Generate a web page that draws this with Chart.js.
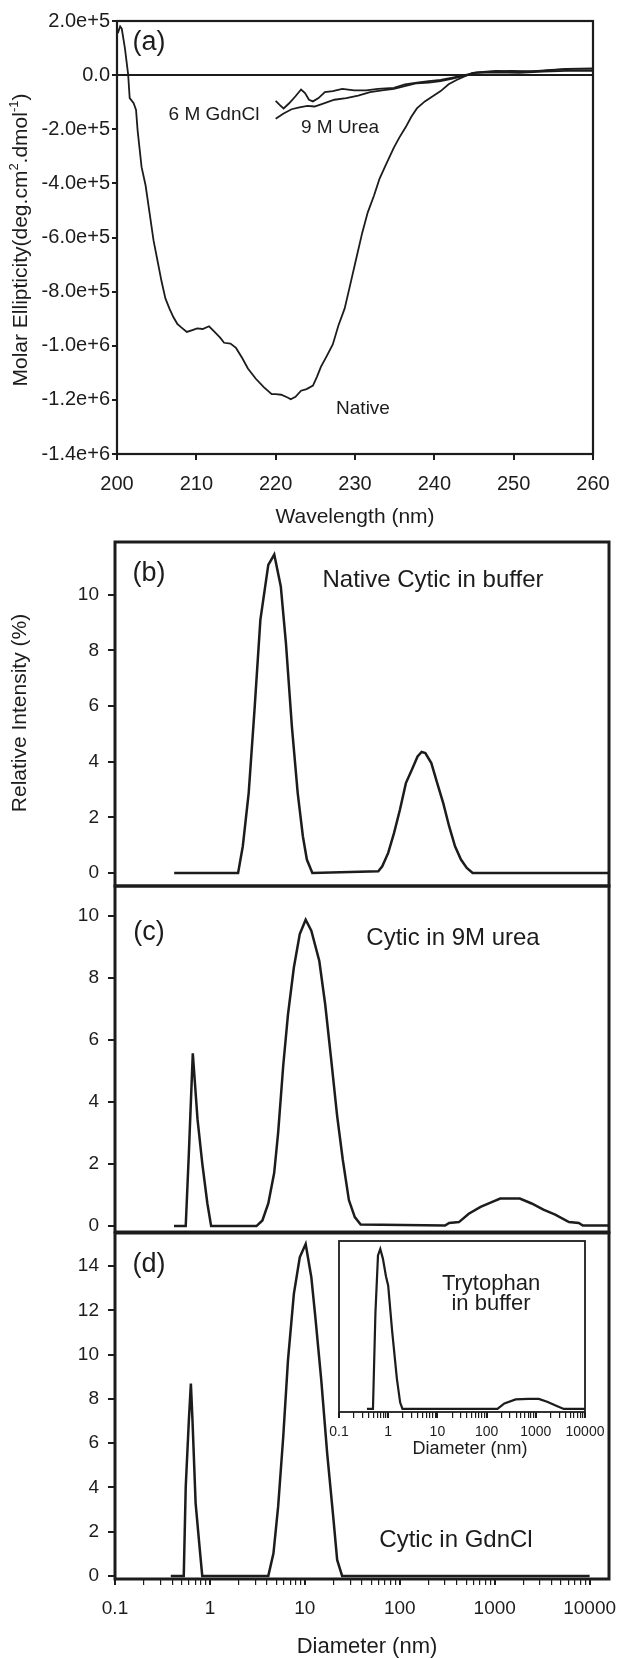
<!DOCTYPE html>
<html>
<head>
<meta charset="utf-8">
<script src="https://cdn.jsdelivr.net/npm/chart.js@4/dist/chart.umd.min.js"></script>
<style>
  html, body { margin: 0; padding: 0; background: #fff; }
  #wrap { position: relative; width: 618px; height: 1658px; }
  canvas { position: absolute; left: 0; top: 0; }
</style>
</head>
<body>
<div id="wrap">
  <canvas id="cA" width="618" height="1658"></canvas>
  <canvas id="cB" width="618" height="1658"></canvas>
  <canvas id="cC" width="618" height="1658"></canvas>
  <canvas id="cD" width="618" height="1658"></canvas>
  <canvas id="cI" width="618" height="1658"></canvas>
</div>
<script>
// (a) CD spectra: wavelength (nm) vs molar ellipticity
const nativeWl = [200.1, 200.4, 200.6, 201.0, 201.4, 201.6, 202.1, 202.4, 202.6, 203.1, 203.6, 204.1, 204.6, 205.1, 205.6,
  206.1, 206.6, 207.1, 207.6, 208.1, 208.8, 209.6, 210.1, 210.8, 211.6, 212.3, 213.0, 213.5, 214.3, 215.0,
  215.8, 216.5, 217.5, 218.5, 219.5, 220.0, 220.7, 221.5, 221.9, 222.5, 223.2, 223.9, 224.7, 225.2, 225.7,
  226.4, 227.2, 227.9, 228.7, 229.4, 230.1, 230.9, 231.6, 232.4, 233.1, 233.9, 234.9, 235.6, 236.4, 237.1,
  237.8, 238.8, 239.8, 240.8, 241.8, 242.8, 243.8, 244.8, 245.8, 247.3, 249.7, 252.2, 254.7, 257.2, 260.0];
const nativeCd = [1.55e5, 1.80e5, 1.72e5, 0.99e5, 0.04e5, -0.85e5, -1.04e5, -1.29e5, -2.05e5, -3.40e5, -4.07e5, -5.08e5, -6.10e5, -6.85e5, -7.60e5,
  -8.25e5, -8.62e5, -8.94e5, -9.19e5, -9.32e5, -9.49e5, -9.41e5, -9.36e5, -9.38e5, -9.28e5, -9.49e5, -9.70e5, -9.89e5, -9.92e5, -10.08e5,
  -10.46e5, -10.84e5, -11.22e5, -11.53e5, -11.79e5, -11.79e5, -11.81e5, -11.91e5, -11.98e5, -11.89e5, -11.66e5, -11.60e5, -11.47e5, -11.15e5, -10.78e5,
  -10.40e5, -9.95e5, -9.26e5, -8.62e5, -7.74e5, -6.85e5, -5.84e5, -5.08e5, -4.45e5, -3.82e5, -3.31e5, -2.68e5, -2.30e5, -1.92e5, -1.54e5,
  -1.23e5, -0.97e5, -0.78e5, -0.59e5, -0.34e5, -0.18e5, -0.05e5, 0.08e5, 0.10e5, 0.13e5, 0.16e5, 0.14e5, 0.19e5, 0.23e5, 0.23e5];
const gdnWl = [220.0, 220.5, 221.0, 221.7, 222.5, 223.2, 223.7, 224.2, 224.7, 225.4, 226.2, 227.2, 228.4, 229.9, 231.4,
  232.9, 234.9, 236.3, 237.8, 239.3, 240.8, 242.3, 243.8, 245.3, 247.8, 250.7, 253.7, 256.7, 260.0];
const gdnCd = [-0.95e5, -1.10e5, -1.23e5, -1.04e5, -0.78e5, -0.53e5, -0.66e5, -0.91e5, -0.97e5, -0.85e5, -0.63e5, -0.59e5, -0.51e5, -0.56e5, -0.56e5,
  -0.51e5, -0.47e5, -0.34e5, -0.28e5, -0.22e5, -0.18e5, -0.09e5, 0, 0.10e5, 0.16e5, 0.13e5, 0.16e5, 0.23e5, 0.25e5];
const ureaWl = [220.0, 221.0, 222.0, 223.0, 224.0, 224.9, 225.9, 227.4, 228.9, 230.4, 231.9, 233.4, 234.9, 236.4, 237.8,
  239.3, 240.8, 242.3, 243.8, 245.3, 247.8, 250.7, 253.7, 256.7, 260.0];
const ureaCd = [-1.61e5, -1.42e5, -1.26e5, -1.19e5, -1.14e5, -1.16e5, -1.06e5, -0.91e5, -0.85e5, -0.76e5, -0.63e5, -0.56e5, -0.51e5, -0.40e5, -0.30e5,
  -0.28e5, -0.22e5, -0.13e5, -0.03e5, 0.08e5, 0.10e5, 0.08e5, 0.13e5, 0.16e5, 0.16e5];
const aXTicks = [200, 210, 220, 230, 240, 250, 260];
const aYTicks = [2e5, 0, -2e5, -4e5, -6e5, -8e5, -1e6, -1.2e6, -1.4e6];
const aYLabels = ['2.0e+5', '0.0', '-2.0e+5', '-4.0e+5', '-6.0e+5', '-8.0e+5', '-1.0e+6', '-1.2e+6', '-1.4e+6'];

// (b)-(d) DLS size distributions: diameter (nm) vs relative intensity (%)
const bDiam = [0.42, 1.98, 2.22, 2.56, 2.95, 3.4, 4.12, 4.76, 5.58, 6.32, 7.3, 8.41, 9.53, 10.5, 12.0,
  59.4, 65.4, 75.5, 87.1, 100.5, 116, 134, 154, 170, 186, 215, 248, 287, 331, 382, 441, 508, 586, 16000];
const bInt = [0, 0, 0.96, 2.87, 5.87, 9.1, 11.08, 11.45, 10.3, 8.26, 5.27, 2.87, 1.32, 0.48, 0,
  0.06, 0.24, 0.72, 1.44, 2.28, 3.23, 3.71, 4.19, 4.35, 4.31, 3.95, 3.23, 2.51, 1.68, 0.96, 0.48, 0.18, 0, 0];
const cDiam = [0.418, 0.556, 0.6, 0.66, 0.74, 0.83, 0.94, 1.03, 3.09, 3.57, 4.12, 4.75, 5.23, 5.92, 6.64,
  7.66, 8.84, 10.2, 11.7, 14.2, 16.4, 18.9, 21.9, 25.1, 29.1, 33.6, 38.7, 300, 331, 420,
  533, 710, 944, 1143, 1840, 2450, 3260, 4340, 6060, 7690, 8470, 16000];
const cInt = [0, 0, 2.36, 5.57, 3.45, 2.03, 0.73, 0, 0, 0.18, 0.73, 1.71, 3.01, 5.18, 6.82,
  8.34, 9.42, 9.88, 9.53, 8.55, 7.14, 5.4, 3.55, 2.14, 0.84, 0.29, 0.05, 0.02, 0.1, 0.13,
  0.4, 0.62, 0.78, 0.89, 0.89, 0.73, 0.53, 0.37, 0.13, 0.1, 0.02, 0.02];
const dDiam = [0.387, 0.53, 0.556, 0.6, 0.63, 0.655, 0.707, 0.777, 0.83, 4.12, 4.67, 5.23, 5.92, 6.64, 7.66,
  8.84, 10.2, 11.7, 12.9, 14.9, 17.2, 19.9, 21.9, 24.7, 10000];
const dInt = [0, 0, 4.03, 7.04, 8.69, 7.04, 3.28, 1.32, 0, 0, 1.02, 3.13, 6.29, 9.74, 12.75,
  14.4, 15.0, 13.5, 11.7, 8.84, 5.53, 2.68, 0.72, 0, 0];
// inset: tryptophan in buffer (arbitrary intensity units, no y scale shown)
const insetDiam = [0.37, 0.49, 0.55, 0.62, 0.69, 0.78, 0.9, 1.0, 1.2, 1.5, 1.75, 1.95, 166, 230, 390, 700, 1150, 1700, 2600, 3700, 10000];
const insetInt = [0, 0, 6.0, 9.6, 10, 9.4, 8.3, 7.7, 4.9, 1.9, 0.4, 0, 0, 0.35, 0.6, 0.63, 0.63, 0.45, 0.2, 0, 0];

const bcYTicks = [0, 2, 4, 6, 8, 10];
const dYTicks = [0, 2, 4, 6, 8, 10, 12, 14];
const logMajor = [0.1, 1, 10, 100, 1000, 10000];
const logMinor = [2, 3, 4, 5, 6, 7, 8, 9];

const FONT = "'Liberation Sans', Arial, Helvetica, sans-serif";
const INK = '#1c1c1c';
const W = 618, H = 1658;

Chart.defaults.font.family = FONT;
Chart.defaults.color = INK;

const logTicks = [];
logMajor.forEach((m, i) => {
  logTicks.push(m);
  if (i < logMajor.length - 1) logMinor.forEach(k => logTicks.push(m * k));
});

const pts = (xs, ys) => xs.map((x, i) => ({ x, y: ys[i] }));
const trace = (xs, ys, w) => ({
  data: pts(xs, ys), borderColor: INK, borderWidth: w, pointRadius: 0,
  showLine: true, tension: 0, fill: false
});

// box round the plot area + free text (with optional superscripts)
function annot(box, texts) {
  return {
    id: 'annot',
    afterDraw(chart) {
      const { ctx, chartArea: a } = chart;
      ctx.save();
      if (box) {
        ctx.strokeStyle = INK;
        ctx.lineWidth = box;
        ctx.strokeRect(a.left, a.top, a.right - a.left, a.bottom - a.top);
      }
      ctx.fillStyle = INK;
      ctx.textBaseline = 'middle';
      ctx.textAlign = 'left';
      texts.forEach(t => {
        ctx.save();
        ctx.translate(t.x, t.y);
        if (t.rot) ctx.rotate(t.rot);
        const parts = (Array.isArray(t.text) ? t.text : [[t.text]]).map(([s, sup]) => {
          const size = sup ? Math.round(t.size * 0.62) : t.size;
          ctx.font = size + 'px ' + FONT;
          return { s, sup, size, w: ctx.measureText(s).width };
        });
        let x = -parts.reduce((acc, p) => acc + p.w, 0) / 2;
        parts.forEach(p => {
          ctx.font = p.size + 'px ' + FONT;
          ctx.fillText(p.s, x, p.sup ? -t.size * 0.33 : 0);
          x += p.w;
        });
        ctx.restore();
      });
      ctx.restore();
    }
  };
}

function yAxis(min, max, ticks, label, width, size, tickLen, pad) {
  return {
    type: 'linear', min, max, display: width > 0,
    afterBuildTicks: s => { s.ticks = ticks.map(v => ({ value: v })); },
    afterFit: s => { s.width = width; s.paddingTop = 0; s.paddingBottom = 0; },
    ticks: { callback: label, font: { size }, color: INK, padding: pad, autoSkip: false },
    grid: { drawOnChartArea: false, tickLength: tickLen, color: INK, lineWidth: 2 },
    border: { display: false }
  };
}

function logAxis(max, height, size, pad) {
  return {
    type: 'logarithmic', min: 0.1, max, display: height > 0,
    afterBuildTicks: s => { s.ticks = logTicks.map(v => ({ value: v })); },
    afterFit: s => { s.height = height; s.paddingLeft = 0; s.paddingRight = 0; },
    ticks: {
      callback: v => logMajor.includes(v) ? String(v) : '',
      font: { size }, color: INK, padding: pad, autoSkip: false, maxRotation: 0
    },
    grid: {
      drawOnChartArea: false, tickLength: 6, color: INK,
      lineWidth: c => (c.tick && logMajor.includes(c.tick.value)) ? 2 : 1.2
    },
    border: { display: false }
  };
}

function panel(id, area, xh, scales, datasets, box, texts) {
  return new Chart(document.getElementById(id), {
    type: 'scatter',
    data: { datasets },
    options: {
      responsive: false, animation: false, events: [],
      layout: { padding: { left: scales.y.display ? 0 : area.left, top: area.top, right: W - area.right, bottom: H - area.bottom - xh } },
      scales,
      plugins: { legend: { display: false }, tooltip: { enabled: false } }
    },
    plugins: [annot(box, texts)]
  });
}

// (a)
panel('cA', { left: 117, top: 21, right: 593, bottom: 454 }, 60, {
  x: {
    type: 'linear', min: 200, max: 260,
    afterBuildTicks: s => { s.ticks = aXTicks.map(v => ({ value: v })); },
    afterFit: s => { s.height = 60; s.paddingLeft = 0; s.paddingRight = 0; },
    ticks: { font: { size: 20 }, color: INK, padding: 12, maxRotation: 0, autoSkip: false },
    grid: { drawOnChartArea: false, tickLength: 6, color: INK, lineWidth: 2 },
    border: { display: false }
  },
  y: Object.assign(yAxis(-1.4e6, 2e5, aYTicks, v => aYLabels[aYTicks.indexOf(v)], 117, 20, 5, 2), {
    grid: {
      drawOnChartArea: true, tickLength: 5, lineWidth: 2, tickColor: INK,
      color: c => (c.tick && c.tick.value === 0) ? INK : 'rgba(0,0,0,0)'
    }
  })
}, [
  trace(nativeWl, nativeCd, 1.8),
  trace(gdnWl, gdnCd, 1.8),
  trace(ureaWl, ureaCd, 1.8)
], 2.2, [
  { text: '(a)', x: 149, y: 43, size: 27 },
  { text: '6 M GdnCl', x: 214, y: 115, size: 19 },
  { text: '9 M Urea', x: 340, y: 128, size: 19 },
  { text: 'Native', x: 363, y: 409, size: 19 },
  { text: 'Wavelength (nm)', x: 355, y: 517, size: 21 },
  { text: [['Molar Ellipticity(deg.cm'], ['2', true], ['.dmol'], ['-1', true], [')']], x: 21, y: 240, size: 21, rot: -Math.PI / 2 }
]);

// (b)
panel('cB', { left: 115, top: 542, right: 609, bottom: 886 }, 0, {
  x: logAxis(16000, 0, 19, 10),
  y: yAxis(-0.47, 11.9, bcYTicks, v => String(v), 115, 19, 7, 9)
}, [trace(bDiam, bInt, 2.5)], 3, [
  { text: '(b)', x: 149, y: 574, size: 27 },
  { text: 'Native Cytic in buffer', x: 433, y: 580, size: 24 },
  { text: 'Relative Intensity (%)', x: 20, y: 713, size: 21, rot: -Math.PI / 2 }
]);

// (c)
panel('cC', { left: 115, top: 886, right: 609, bottom: 1232 }, 0, {
  x: logAxis(16000, 0, 19, 10),
  y: yAxis(-0.19, 10.97, bcYTicks, v => String(v), 115, 19, 7, 9)
}, [trace(cDiam, cInt, 2.5)], 3, [
  { text: '(c)', x: 149, y: 933, size: 27 },
  { text: 'Cytic in 9M urea', x: 453, y: 938, size: 24 }
]);

// (d)
panel('cD', { left: 115, top: 1233, right: 609, bottom: 1579 }, 40, {
  x: logAxis(16000, 40, 19, 12),
  y: yAxis(-0.14, 15.5, dYTicks, v => String(v), 115, 19, 7, 9)
}, [trace(dDiam, dInt, 2.5)], 3, [
  { text: '(d)', x: 149, y: 1265, size: 27 },
  { text: 'Cytic in GdnCl', x: 456, y: 1540, size: 24 },
  { text: 'Diameter (nm)', x: 367, y: 1647, size: 22 }
]);

// inset of (d)
panel('cI', { left: 339, top: 1241, right: 585, bottom: 1412 }, 30, {
  x: logAxis(10000, 30, 14, 6),
  y: yAxis(-0.19, 10.5, [], () => '', 0, 14, 0, 0)
}, [trace(insetDiam, insetInt, 2.2)], 1.8, [
  { text: 'Trytophan', x: 491, y: 1284, size: 22 },
  { text: 'in buffer', x: 491, y: 1304, size: 22 },
  { text: 'Diameter (nm)', x: 470, y: 1449, size: 18 }
]);
</script>
</body>
</html>
